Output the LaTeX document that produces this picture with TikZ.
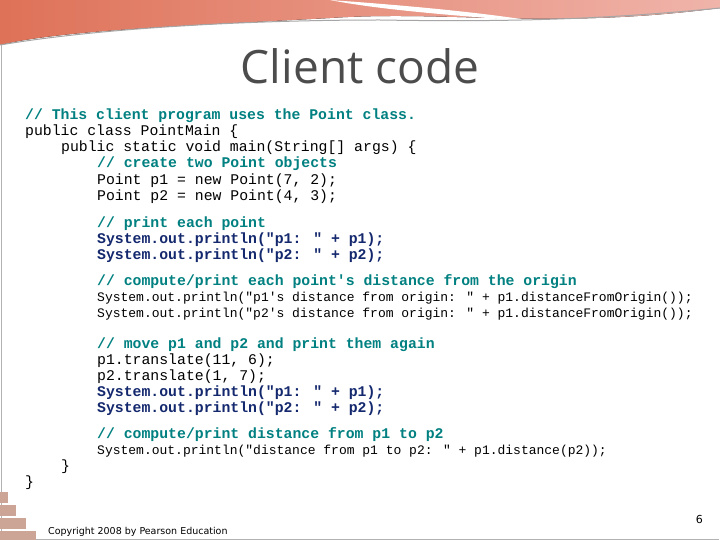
\documentclass[tikz,border=0pt]{standalone}
\usepackage{fontspec}
\newfontfamily\codef{Liberation Mono}
\newfontfamily\titlef{Open Sans}
\newfontfamily\smallf{DejaVu Sans}
\definecolor{cmt}{RGB}{0,128,128}
\definecolor{kw}{RGB}{20,40,110}
\definecolor{sw1}{RGB}{214,110,110}
\definecolor{sw2}{RGB}{240,180,170}
\definecolor{brick}{RGB}{205,165,150}
\begin{document}
\begin{tikzpicture}[x=1pt,y=-1pt,
  codeln/.style={anchor=west,inner sep=0pt,font=\codef\fontsize{14.8}{16}\selectfont},
  cmtln/.style={codeln,text=cmt,font=\codef\bfseries\fontsize{14.8}{16}\selectfont},
  boldln/.style={codeln,text=kw,font=\codef\bfseries\fontsize{14.8}{16}\selectfont},
  smln/.style={codeln,font=\codef\fontsize{13}{16}\selectfont}]
\useasboundingbox (0,0) rectangle (720,540);
\fill[white] (0,0) rectangle (720,540);
% header swoosh
\fill[left color=sw1!80!orange, right color=sw2] (0,0) -- (720,0) -- (720,8) .. controls (550,30) and (450,10) .. (330,18) .. controls (200,25) and (60,30) .. (0,45) -- cycle;
\fill[white] (330,0) .. controls (400,5) and (480,12) .. (540,22) .. controls (460,16) and (380,10) .. (330,0);
\draw[gray!70,line width=1pt] (0,45) .. controls (100,28) and (250,20) .. (380,20) .. controls (500,22) and (600,20) .. (720,8);
\draw[gray!60] (1,45) -- (1,539) -- (719,539);
% bricks
\foreach \yy/\w in {492/8,505/16,518/26,531/36}{\fill[brick] (0,\yy) rectangle (\w,\yy+11);}
\node[font=\titlef\fontsize{46}{52}\selectfont,text=black!70] (title) at (360,66) {Client code};
\node[cmtln] (l1) at (25,116) {// This client program uses the Point class.};
\node[codeln] (l2) at (25,132) {public class PointMain \{};
\node[codeln] (l3) at (61,148) {public static void main(String[] args) \{};
\node[cmtln] (l4) at (97,164) {// create two Point objects};
\node[codeln] (l5) at (97,181) {Point p1 = new Point(7, 2);};
\node[codeln] (l6) at (97,197) {Point p2 = new Point(4, 3);};
\node[cmtln] (l7) at (97,224) {// print each point};
\node[boldln] (l8) at (97,240) {System.out.println("p1: " + p1);};
\node[boldln] (l9) at (97,256) {System.out.println("p2: " + p2);};
\node[cmtln] (l10) at (97,282) {// compute/print each point's distance from the origin};
\node[smln] (l11) at (97,298) {System.out.println("p1's distance from origin: " + p1.distanceFromOrigin());};
\node[smln] (l12) at (97,314) {System.out.println("p2's distance from origin: " + p1.distanceFromOrigin());};
\node[cmtln] (l13) at (97,345) {// move p1 and p2 and print them again};
\node[codeln] (l14) at (97,361) {p1.translate(11, 6);};
\node[codeln] (l15) at (97,377) {p2.translate(1, 7);};
\node[boldln] (l16) at (97,393) {System.out.println("p1: " + p1);};
\node[boldln] (l17) at (97,409) {System.out.println("p2: " + p2);};
\node[cmtln] (l18) at (97,435) {// compute/print distance from p1 to p2};
\node[smln] (l19) at (97,451) {System.out.println("distance from p1 to p2: " + p1.distance(p2));};
\node[codeln] (l20) at (61,467) {\}};
\node[codeln] (l21) at (25,483) {\}};
\node[anchor=west,inner sep=0pt,font=\smallf\fontsize{9.5}{11}\selectfont] (copy) at (48,532) {Copyright 2008 by Pearson Education};
\node[anchor=east,inner sep=0pt,font=\smallf\fontsize{11}{12}\selectfont] (pg) at (703,519) {6};
\end{tikzpicture}
\end{document}
